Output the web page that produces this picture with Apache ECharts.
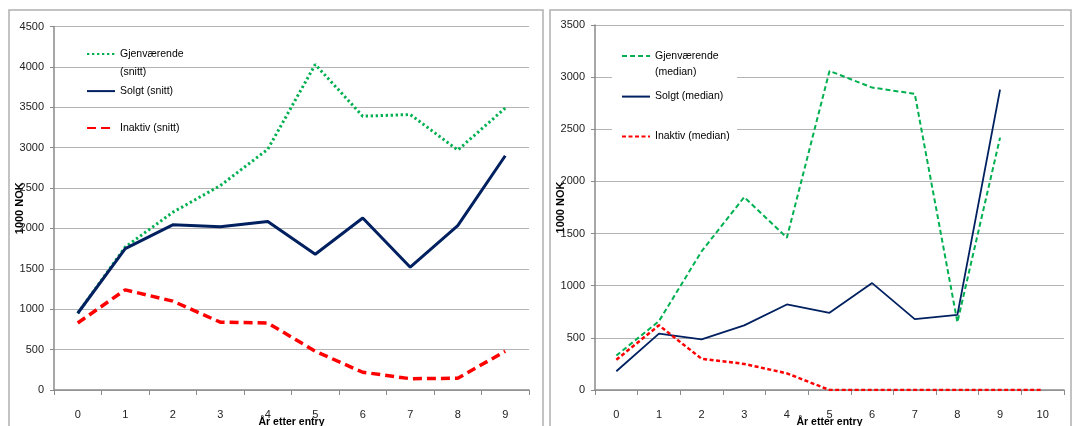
<!DOCTYPE html>
<html>
<head>
<meta charset="utf-8">
<script src="https://cdn.jsdelivr.net/npm/echarts@6/dist/echarts.min.js"></script>
<style>
  html, body { margin: 0; padding: 0; background: #fff; }
  #chart { width: 1073px; height: 426px; }
</style>
</head>
<body>
<div id="chart"></div>
<script>
// Years after entry
const yearsSnitt = ['0', '1', '2', '3', '4', '5', '6', '7', '8', '9'];
const yearsMedian = ['0', '1', '2', '3', '4', '5', '6', '7', '8', '9', '10'];

// Averages, 1000 NOK
const gjenvaerendeSnitt = [950, 1770, 2200, 2530, 2980, 4030, 3390, 3410, 2970, 3490];
const solgtSnitt = [950, 1750, 2045, 2020, 2085, 1680, 2130, 1520, 2035, 2900];
const inaktivSnitt = [830, 1240, 1100, 840, 830, 480, 220, 140, 145, 480];

// Medians, 1000 NOK
const gjenvaerendeMedian = [330, 660, 1330, 1850, 1460, 3060, 2900, 2840, 650, 2420];
const solgtMedian = [180, 540, 485, 620, 820, 740, 1025, 680, 720, 2880];
const inaktivMedian = [290, 620, 300, 250, 160, 0, 0, 0, 0, 0, 0];

const yMaxSnitt = 4500;
const yMaxMedian = 3500;
const yStep = 500;

const FONT = "'Liberation Sans', Arial, sans-serif";
const GREEN = '#00b050';
const NAVY = '#002060';
const RED = '#ff0000';
const AXIS_GRAY = '#8a8a8a';
const GRID_GRAY = '#b4b4b4';

function xAxisFor(gridIndex, cats) {
  return {
    type: 'category',
    gridIndex: gridIndex,
    data: cats,
    boundaryGap: true,
    name: 'År etter entry',
    nameLocation: 'middle',
    nameGap: 27,
    nameMoveOverlap: false,
    nameTextStyle: { fontFamily: FONT, fontSize: 10.5, fontWeight: 'bold', color: '#000' },
    axisLine: { lineStyle: { color: AXIS_GRAY, width: 1.5 } },
    axisTick: { show: true, alignWithLabel: false, length: 5, lineStyle: { color: AXIS_GRAY } },
    axisLabel: { margin: 19, fontFamily: FONT, fontSize: 11, color: '#222', hideOverlap: false },
    splitLine: { show: false }
  };
}

function yAxisFor(gridIndex, max) {
  return {
    type: 'value',
    gridIndex: gridIndex,
    min: 0,
    max: max,
    interval: yStep,
    name: '1000 NOK',
    nameLocation: 'middle',
    nameRotate: 90,
    nameGap: 29,
    nameMoveOverlap: false,
    nameTextStyle: { fontFamily: FONT, fontSize: 11, fontWeight: 'bold', color: '#000' },
    axisLine: { show: true, lineStyle: { color: AXIS_GRAY, width: 1.5 } },
    axisTick: { show: true, length: 4, lineStyle: { color: AXIS_GRAY } },
    axisLabel: {
      margin: 10, fontFamily: FONT, fontSize: 11, color: '#222',
      formatter: function (v) { return String(v); }
    },
    splitLine: { show: true, lineStyle: { color: GRID_GRAY, width: 1 } }
  };
}

function lineSeries(name, data, xi, color, width, type) {
  return {
    type: 'line',
    name: name,
    xAxisIndex: xi,
    yAxisIndex: xi,
    data: data,
    symbol: 'none',
    showSymbol: false,
    animation: false,
    lineStyle: { color: color, width: width, type: type },
    itemStyle: { color: color }
  };
}

// One legend per entry so each sits at its own height. For the long
// entry only the first word goes beside the sample; the bracket part
// is written on the line below.
function legendItem(name, left, top, firstWordOnly) {
  return {
    data: [name],
    orient: 'vertical',
    left: left,
    top: top,
    padding: 0,
    itemWidth: 28,
    itemHeight: 14,
    selectedMode: false,
    itemStyle: { opacity: 0 },
    formatter: firstWordOnly ? function (n) { return n.split(' (')[0]; } : '{name}',
    textStyle: { fontFamily: FONT, fontSize: 10.5, color: '#000' }
  };
}

function secondLine(text, x, y) {
  return {
    type: 'text', z: 5, x: x, y: y,
    style: { text: text, fill: '#000', font: '10.5px ' + FONT, verticalAlign: 'middle', align: 'left' }
  };
}

const chart = echarts.init(document.getElementById('chart'), null, { renderer: 'canvas' });

chart.setOption({
  animation: false,
  backgroundColor: '#fff',
  grid: [
    { left: 54, top: 26.5, width: 475, height: 363.5, containLabel: false, outerBoundsMode: 'none' },
    { left: 595, top: 25, width: 469, height: 365, containLabel: false, outerBoundsMode: 'none' }
  ],
  xAxis: [xAxisFor(0, yearsSnitt), xAxisFor(1, yearsMedian)],
  yAxis: [yAxisFor(0, yMaxSnitt), yAxisFor(1, yMaxMedian)],
  legend: [
    legendItem('Gjenværende (snitt)', 86, 48.5, true),
    legendItem('Solgt (snitt)', 86, 85.5, false),
    legendItem('Inaktiv (snitt)', 86, 122.5, false),
    legendItem('Gjenværende (median)', 621, 50.5, true),
    legendItem('Solgt (median)', 621, 91, false),
    legendItem('Inaktiv (median)', 621, 131, false)
  ],
  graphic: [
    // panel frames
    { type: 'rect', z: 0, shape: { x: 9, y: 10, width: 534, height: 440 },
      style: { fill: 'none', stroke: '#b0b0b0', lineWidth: 1.5 } },
    { type: 'rect', z: 0, shape: { x: 550, y: 10, width: 521, height: 440 },
      style: { fill: 'none', stroke: '#b0b0b0', lineWidth: 1.5 } },
    // white backing behind the median legend
    { type: 'rect', z: 1, shape: { x: 612, y: 38, width: 125, height: 112 },
      style: { fill: '#fff' } },
    secondLine('(snitt)', 120, 72),
    secondLine('(median)', 655, 72.5)
  ],
  series: [
    lineSeries('Gjenværende (snitt)', gjenvaerendeSnitt, 0, GREEN, 3, [2.3, 2.7]),
    lineSeries('Solgt (snitt)', solgtSnitt, 0, NAVY, 3, 'solid'),
    lineSeries('Inaktiv (snitt)', inaktivSnitt, 0, RED, 3.5, [9, 5]),
    lineSeries('Gjenværende (median)', gjenvaerendeMedian, 1, GREEN, 2, [5, 3]),
    lineSeries('Solgt (median)', solgtMedian, 1, NAVY, 1.8, 'solid'),
    lineSeries('Inaktiv (median)', inaktivMedian, 1, RED, 2.5, [4, 2.5])
  ]
});
</script>
</body>
</html>
